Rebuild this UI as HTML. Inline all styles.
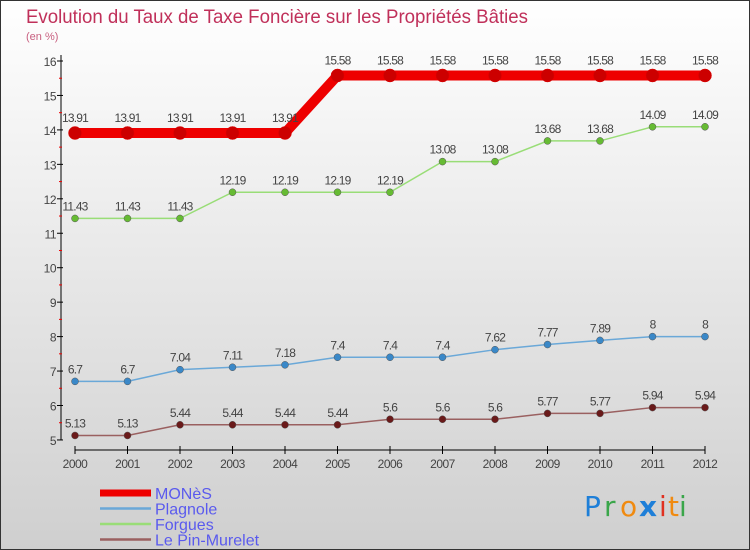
<!DOCTYPE html>
<html><head><meta charset="utf-8"><style>
body{margin:0;}
svg{display:block;font-family:"Liberation Sans",sans-serif;}
</style></head><body>
<svg id="c" width="750" height="550" xmlns="http://www.w3.org/2000/svg">
<defs><linearGradient id="bg" x1="0" y1="0" x2="0" y2="1"><stop offset="0" stop-color="#ffffff"/><stop offset="1" stop-color="#cfcfcf"/></linearGradient></defs>
<rect x="0.5" y="0.5" width="749" height="549" fill="url(#bg)" stroke="#333"/>
<text x="26" y="23" font-size="19" fill="#c0305a" textLength="502" lengthAdjust="spacingAndGlyphs">Evolution du Taux de Taxe Foncière sur les Propriétés Bâties</text>
<text x="26" y="40" font-size="11" fill="#c86080">(en %)</text>
<g id="axes"></g><g id="series"></g><g id="legend"></g>
<g font-size="28" font-family="DejaVu Sans, sans-serif">
<text x="584" y="516" fill="#1e7fd8">P</text><text x="604" y="516" fill="#3aa64a">r</text><text x="620" y="516" fill="#f08a10">o</text><text x="639" y="516" fill="#1e7fd8" font-weight="bold">x</text><text x="659" y="516" fill="#e03020">i</text><text x="668" y="516" fill="#f08a10">t</text><text x="679" y="516" fill="#3aa64a">i</text>
</g>
</svg>
<script>
const years=[2000,2001,2002,2003,2004,2005,2006,2007,2008,2009,2010,2011,2012];
const mones=[13.91,13.91,13.91,13.91,13.91,15.58,15.58,15.58,15.58,15.58,15.58,15.58,15.58];
const plagnole=[6.7,6.7,7.04,7.11,7.18,7.4,7.4,7.4,7.62,7.77,7.89,8,8];
const forgues=[11.43,11.43,11.43,12.19,12.19,12.19,12.19,13.08,13.08,13.68,13.68,14.09,14.09];
const pin=[5.13,5.13,5.44,5.44,5.44,5.44,5.6,5.6,5.6,5.77,5.77,5.94,5.94];
const yTicks=[5,6,7,8,9,10,11,12,13,14,15,16];
const names=["MONèS","Plagnole","Forgues","Le Pin-Murelet"];
const NS="http://www.w3.org/2000/svg";
const X=i=>75+i*52.5, Y=v=>61+(16-v)*34.45;
function mk(t,a,p){const e=document.createElementNS(NS,t);for(const k in a)e.setAttribute(k,a[k]);p.appendChild(e);return e;}
const ax=document.getElementById('axes');
let l=mk('line',{x1:61,y1:55,x2:61,y2:Y(5),stroke:'#000'},ax);


l=mk('line',{x1:75,y1:450,x2:705,y2:450,stroke:'#000'},ax);


yTicks.forEach(v=>{
 mk('line',{x1:57,y1:Y(v),x2:63,y2:Y(v),stroke:'#000'},ax);
 if(v<16)mk('line',{x1:59,y1:Y(v+0.5),x2:62,y2:Y(v+0.5),stroke:'#e00'},ax);
 const t=mk('text',{x:56,y:Y(v)+5,'text-anchor':'end','font-size':12,fill:'#444','letter-spacing':'-0.5'},ax);
 t.textContent=v;
 
 
});
years.forEach((y,i)=>{
 mk('line',{x1:X(i),y1:446,x2:X(i),y2:454,stroke:'#000'},ax);
 const t=mk('text',{x:X(i),y:468,'text-anchor':'middle','font-size':12,fill:'#444','letter-spacing':'-0.5'},ax);
 t.textContent=y;
 
 
});
const sg=document.getElementById('series');
const cfg=[[mones,'#ee0000',10,6.5,'#cc0000'],[plagnole,'#6aa8d8',1.5,3.5,'#3a88c8'],[forgues,'#99dd77',1.5,3.5,'#66bb33'],[pin,'#9a6060',1.5,3.5,'#6a1a1a']];
cfg.forEach((c,si)=>{
 const g=mk('g',{},sg);
 
 
 const p=mk('polyline',{points:c[0].map((v,i)=>X(i)+','+Y(v)).join(' '),fill:'none',stroke:c[1],'stroke-width':c[2]},g);
 
 
 c[0].forEach((v,i)=>{
  const d=mk('circle',{cx:X(i),cy:Y(v),r:c[3],fill:c[4],stroke:si==0?'#d00':'#555','stroke-width':0.5},g);
  
  
  const t=mk('text',{x:X(i),y:Y(v)-(si==0?11:8),'text-anchor':'middle','font-size':12,fill:'#444','letter-spacing':'-0.8'},g);
  t.textContent=v;
  
  
 });
});
const lg=document.getElementById('legend');
cfg.forEach((c,i)=>{
 const y=493+i*15.5;
 const g=mk('g',{},lg);
 
 
 mk('line',{x1:100,y1:y,x2:151,y2:y,stroke:c[1],'stroke-width':i==0?7:2.5},g);
 const t=mk('text',{x:155,y:y+6,'font-size':16,fill:'#5a5aee'},g);
 t.textContent=names[i];
});
</script>
</body></html>
